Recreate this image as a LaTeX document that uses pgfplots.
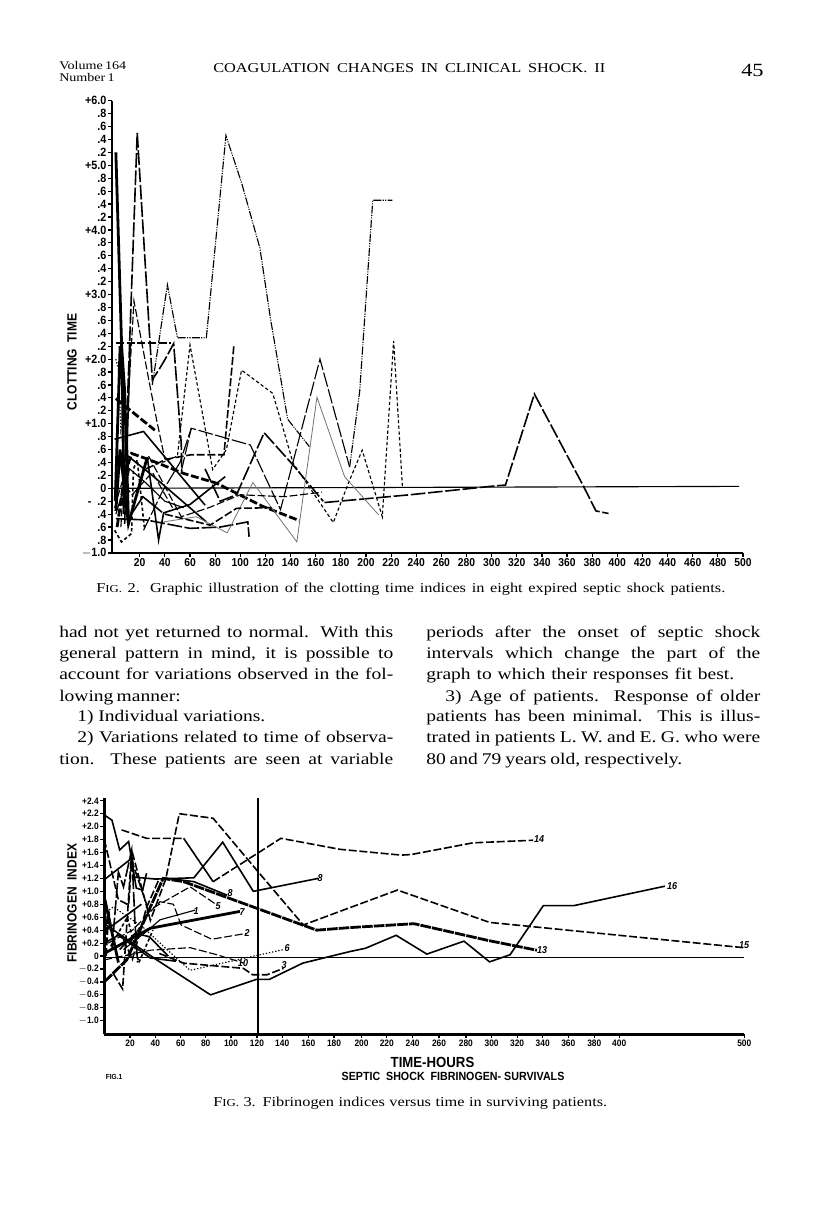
\documentclass[border=0pt]{standalone}
\usepackage{fontspec}
\setmainfont[FakeStretch=1.2]{Liberation Serif}
\newfontfamily\lab[FakeStretch=0.9]{Liberation Sans}
\usepackage{pgfplots}
\pgfplotsset{compat=1.18}
\newcommand{\Ln}[4]{\node[anchor=base west,inner sep=0pt] at (#1,#2) {\makebox[\dimexpr #3pt*3/4\relax][s]{#4}};}
\newcommand{\Tg}[3]{\node[inner sep=0pt] at (#1,#2) {\lab\bfseries\itshape\fontsize{7.5}{8}\selectfont #3};}
\pgfplotsset{
  pg/.style={scale only axis,x axis line style={-,line width=1.9pt,black},y axis line style={-,line width=1.9pt,black},
    axis x line*=bottom,axis y line*=left,clip=false,
    tick style={black,line width=0.9pt},major tick length=3pt,
    tick align=outside,
    every x tick label/.append style={font=\lab\bfseries\fontsize{8.6}{9}\selectfont,inner sep=1pt},
    every y tick label/.append style={font=\lab\bfseries\fontsize{9}{9}\selectfont,inner sep=1pt}},
  th/.style={black,line width=0.85pt,no marks},
  mid/.style={black,line width=1.2pt,no marks},
  hv/.style={black,line width=2.1pt,no marks},
  gr/.style={black!55,line width=0.6pt,no marks},
  ld/.style={dash pattern=on 11pt off 2pt},
  md/.style={dash pattern=on 6pt off 2pt},
  sd/.style={dash pattern=on 2.5pt off 1.8pt},
  dd/.style={dash pattern=on 6pt off 1pt on 0.8pt off 1pt on 0.8pt off 1pt},
  dt/.style={dash pattern=on 1pt off 1.4pt},
}
\begin{document}
\begin{tikzpicture}[x=0.75pt,y=-0.75pt]
\path[fill=white] (0,0) rectangle (816,1219);
% ---- page text
\fontsize{8.8}{10}\selectfont
\Ln{59}{70}{60}{Volume 164}
\Ln{59}{82}{42}{Number 1}
\fontsize{10.2}{12}\selectfont
\Ln{213}{73}{392}{COAGULATION CHANGES IN CLINICAL SHOCK. II}
\node[anchor=base west,inner sep=0pt] at (741,77) {\fontsize{14}{16}\selectfont 45};
\fontsize{10.2}{12}\selectfont
\Ln{96}{592}{629}{F{\fontsize{8}{9}\selectfont IG.} 2. Graphic illustration of the clotting time indices in eight expired septic shock patients.}
\Ln{213}{1106}{394}{F{\fontsize{8}{9}\selectfont IG.} 3. Fibrinogen indices versus time in surviving patients.}
\fontsize{12.2}{14}\selectfont
\Ln{59}{637}{334}{had not yet returned to normal. With this}
\Ln{59}{658}{334}{general pattern in mind, it is possible to}
\Ln{59}{679}{334}{account for variations observed in the fol-}
\Ln{59}{701}{116}{lowing manner:}
\Ln{77}{721}{188}{1) Individual variations.}
\Ln{77}{742}{316}{2) Variations related to time of observa-}
\Ln{59}{764}{334}{tion. These patients are seen at variable}
\Ln{426}{637}{334}{periods after the onset of septic shock}
\Ln{426}{658}{334}{intervals which change the part of the}
\Ln{426}{679}{308}{graph to which their responses fit best.}
\Ln{445}{701}{315}{3) Age of patients. Response of older}
\Ln{426}{721}{334}{patients has been minimal. This is illus-}
\Ln{426}{742}{334}{trated in patients L. W. and E. G. who were}
\Ln{426}{764}{256}{80 and 79 years old, respectively.}
% ---- chart labels
\node[rotate=90,inner sep=0pt] at (72,362) {\lab\bfseries\fontsize{10}{11}\selectfont CLOTTING\ \ TIME};
\node[rotate=90,inner sep=0pt] at (72,903) {\lab\bfseries\fontsize{10}{11}\selectfont FIBRINOGEN\ \ INDEX};
\node[inner sep=0pt] at (432.5,1062) {\lab\bfseries\fontsize{11}{12}\selectfont TIME-HOURS};
\node[inner sep=0pt] at (453,1076) {\lab\bfseries\fontsize{8.9}{10}\selectfont SEPTIC\ \ SHOCK\ \ FIBRINOGEN-\ SURVIVALS};
\node[inner sep=0pt] at (114,1077) {\lab\bfseries\fontsize{5.5}{6}\selectfont FIG.1};
\Tg{320}{878}{8}\Tg{230}{893}{8}\Tg{218}{906}{5}\Tg{196}{911}{1}\Tg{242}{912}{7}\Tg{247}{933}{2}
\Tg{287}{948}{6}\Tg{243}{963}{10}\Tg{284}{965}{3}\Tg{539}{839}{14}\Tg{672}{886}{16}\Tg{542}{950}{13}\Tg{744}{945}{15}
% ---- Fig 2
\begin{axis}[pg,at={(84pt,-414.68pt)},anchor=south west,width=473.25pt,height=339.15pt,
  xmin=-2.07,xmax=500,ymin=-1,ymax=6,
  xtick={20,40,...,500},
  ytick={-1,-0.8,-0.6,-0.4,-0.2,0,0.2,0.4,0.6,0.8,1,1.2,1.4,1.6,1.8,2,2.2,2.4,2.6,2.8,3,3.2,3.4,3.6,3.8,4,4.2,4.4,4.6,4.8,5,5.2,5.4,5.6,5.8,6},
  yticklabels={$-$1.0,.8,.6,.4,-\ \ .2,0,.2,.4,.6,.8,+1.0,.2,.4,.6,.8,+2.0,.2,.4,.6,.8,+3.0,.2,.4,.6,.8,+4.0,.2,.4,.6,.8,+5.0,.2,.4,.6,.8,+6.0},
  xticklabels={20,40,60,80,100,120,140,160,180,200,220,240,260,280,300,320,340,360,380,400,420,440,460,480,500},
]
\addplot[th] coordinates {(-2,0) (497,0.03)};
\addplot[th,dd] coordinates {(30,1.6)(42,3.15)(50,2.33)(73,2.33)(88.6,5.46)(101,4.73)(115.6,3.72)(124,2.63)(137.7,1.07)(155,0.645)};
\addplot[mid,ld] coordinates {(7,-0.4)(18,5.5)(30,1.68)(36,1.86)(40,1.99)(47,2.24)(53,0.7)(53.5,0.26)};
\addplot[th,md] coordinates {(5,-0.6)(15.4,2.9)(27,1.7)(33,1.1)(40,0.45)};
\addplot[th,sd] coordinates {(38,0.4)(50,0.5)(60,2.22)(78,0.29)(89,0.6)(101,1.83)(125.8,1.47)(133,1.0)(142,0.39)(174,-0.53)(186,0.08)(197,0.59)(213,-0.44)(222,2.28)(229,0.03)};
\addplot[mid,md] coordinates {(25,0.3)(41,0.45)(61,0.52)(87,0.52)(95,2.23)};
\addplot[th,ld] coordinates {(53,0.26)(61,0.93)(108,0.67)(132,-0.33)(163.4,2.0)(187,0.33)};
\addplot[th,dd] coordinates {(187,0.33)(195,1.5)(205.4,4.46)(221,4.46)};
\addplot[mid,ld] coordinates {(72,0.3)(84,-0.2)(97,-0.1)(119,0.86)(142,0.36)(166,-0.2)};
\addplot[mid,ld] coordinates {(167,-0.22)(235,-0.1)(304,0.04)(311,0.05)(334,1.46)(372.6,0.05)(383,-0.35)(393,-0.39)};
\addplot[hv,md] coordinates {(1,1.39)(32,0.9)};
\addplot[hv,md] coordinates {(2,-0.6)(8,0.2)(13.5,0.54)(28,0.44)(55,0.23)(81,0.08)(118,-0.28)(147,-0.5)};
\addplot[mid] coordinates {(0,0.76)(23,0.88)(72,-0.26)};
\addplot[mid] coordinates {(8,0.54)(30,0.2)(73,-0.52)};
\addplot[mid,ld] coordinates {(1,-0.47)(25,-0.49)(60,-0.62)(84,-0.6)(106,-0.52)(107,-0.75)};
\addplot[gr] coordinates {(39,-0.52)(65,-0.44)(89.6,-0.69)(110,0.09)(145,-0.83)(161,1.41)(183,0.18)(210,-0.41)};
\addplot[hv] coordinates {(1,-0.35)(4.3,0.6)(11,-0.55)(26,0.48)};
\addplot[mid] coordinates {(26,0.48)(35,-0.8)(39,-0.38)(60,-0.25)(88,0.18)};
\addplot[th,md] coordinates {(27,0.5)(53,-0.44)(75,-0.3)(100,-0.1)(135,-0.13)(165,-0.06)};
\addplot[th,ld] coordinates {(23,-0.65)(38,-0.05)(52,0.4)(61,0.93)};
\addplot[mid,md] coordinates {(40,-0.4)(76,-0.57)(97,-0.31)(125,-0.3)};
\addplot[mid,sd] coordinates {(0,-0.65)(5.5,-0.83)(13.5,-0.7)(15,0.3)(18,0.44)(23.6,-0.6)};
\addplot[mid] coordinates {(10,-0.5)(22.5,-0.13)(37.7,-0.37)};
\addplot[hv] coordinates {(1,5.2)(5.6,2.2)(8,1.5)(11,-0.5)};
\addplot[hv,md] coordinates {(1,2.25)(45,2.25)};
\addplot[hv] coordinates {(0.5,-0.2)(4.4,2.2)(6,1.9)(7.5,-0.3)};
\addplot[mid] coordinates {(8,-0.55)(12.5,2.25)(10,0.7)(11,0.2)};
\addplot[th,dt] coordinates {(1,2.0)(3,1.85)(5,0.9)(8,1.2)(10,0.6)};
\addplot[th] coordinates {(1,-0.4)(12,0.3)(24,0.1)(40,-0.2)(55,-0.3)};
\addplot[th,md] coordinates {(0,-0.3)(6,0.1)(14,-0.1)(30,0.25)(46,-0.3)};
\end{axis}
% ---- Fig 3
\begin{axis}[pg,at={(78.225pt,-775.725pt)},anchor=south west,width=480pt,height=177.08pt,
  xmin=0,xmax=500,ymin=-1.21,ymax=2.44,
  xtick={20.1,39.9,59.7,79.2,99,119.3,139,159.4,179.5,201,220.7,240.9,261.5,282.5,302.6,322.5,342.5,362.5,382.8,402.3,500},
  xticklabels={20,40,60,80,100,120,140,160,180,200,220,240,260,280,300,320,340,360,380,400,500},
  ytick={-1,-0.8,-0.6,-0.4,-0.2,0,0.2,0.4,0.6,0.8,1,1.2,1.4,1.6,1.8,2,2.2,2.4},
  yticklabels={$-$1.0,$-$0.8,$-$0.6,$-$0.4,$-$0.2,0,+0.2,+0.4,+0.6,+0.8,+1.0,+1.2,+1.4,+1.6,+1.8,+2.0,+2.2,+2.4},
  every x tick label/.append style={font=\lab\bfseries\fontsize{7}{8}\selectfont},
  every y tick label/.append style={font=\lab\bfseries\fontsize{7}{8}\selectfont},
]
\addplot[mid] coordinates {(0,-0.02) (500,-0.02)};
\addplot[mid] coordinates {(120,-1.21) (120,2.44)};
\addplot[mid,md] coordinates {(13.5,1.95)(33,1.82)(62,1.82)};
\addplot[mid] coordinates {(62,1.82)(85,1.15)};
\addplot[mid,md] coordinates {(85,1.15)(138,1.82)(184,1.65)(232,1.56)(240,1.57)(288,1.75)(335,1.79)};
\addplot[mid] coordinates {(0,1.18)(22,1.52)(23,1.22)(40,1.19)(70,1.21)(92.5,1.76)(116.4,1.0)(167,1.2)};
\addplot[mid] coordinates {(0,2.18)(6,2.1)(12,1.64)(19,1.77)(25,1.05)(30,1.02)(33,1.28)};
\addplot[mid,md] coordinates {(7,-0.27)(14.3,-0.51)(21.4,1.64)(36,0.55)(48,1.19)(58.6,2.2)(85,2.13)(119,1.33)(155.5,0.48)(184,0.69)(229,1.02)(301,0.52)(499,0.13)};
\addplot[hv,md,dash pattern=on 8pt off 0.8pt] coordinates {(0,-0.4)(17.5,-0.06)(46,1.2)(62,1.15)(166,0.4)(192,0.44)(242,0.5)(300,0.24)(338,0.09)};
\addplot[hv] coordinates {(0,0.04)(36,0.43)(106,0.69)};
\addplot[th] coordinates {(15,0.1)(33,0.38)(43.5,0.56)(71,0.71)};
\addplot[th,md] coordinates {(3,0.2)(22,0.4)(43.5,0.84)(54,0.8)(60,0.48)(84,0.26)(111,0.35)};
\addplot[mid,md] coordinates {(0,1.8)(11,0.87)(19,0.79)(21.4,1.48)(33,0.8)};
\addplot[th,md] coordinates {(20,0.2)(36,0.72)(67,1.07)(88,0.79)};
\addplot[th,dt] coordinates {(0,0.65)(7,0.76)(30,0.45)(49,0.1)(67,-0.22)(140,0.1)};
\addplot[mid] coordinates {(0,0.5)(41,-0.06)(83,-0.6)(119,-0.36)(129,-0.36)(155,-0.11)(192,0.07)(204,0.12)(228,0.32)(252,0.03)(281,0.23)(301,-0.09)(317,0.02)(343,0.78)(367,0.78)(438,1.08)};
\addplot[mid,md] coordinates {(43,0.04)(62,-0.11)(108.6,-0.19)(116,-0.29)(127,-0.29)(140,-0.19)};
\addplot[th,md] coordinates {(0,-0.06)(36,0.09)(67,0.13)(88,0.02)(109,-0.11)};
\addplot[mid] coordinates {(0,0.38)(29,0.8)};
\addplot[mid] coordinates {(0,0.2)(11,0.32)(36,-0.03)(56,-0.08)};
\addplot[mid] coordinates {(46,1.21)(70,1.15)(96,0.94)};
\addplot[hv] coordinates {(0.5,0.87)(11,-0.1)};
\addplot[hv,md] coordinates {(1,0.0)(3,0.7)(5,0.4)};
\addplot[mid,ld] coordinates {(6,0.1)(11,1.3)(15,1.07)(21.4,1.64)(24,0.5)(26,-0.1)};
\addplot[mid] coordinates {(12,0.1)(24,0.35)(35,0.3)(50,0.0)};
\addplot[mid,md] coordinates {(15,0.25)(22,-0.05)(33,0.75)(43,1.2)};
\addplot[mid,sd] coordinates {(5,0.15)(18,0.6)(27,-0.1)(38,0.4)};
\end{axis}
\end{tikzpicture}
\end{document}
